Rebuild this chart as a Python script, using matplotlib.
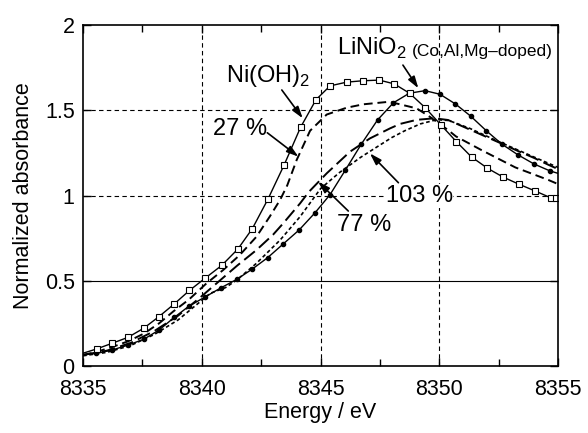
import matplotlib
matplotlib.use('Agg')
import matplotlib.pyplot as plt
from matplotlib.ticker import MultipleLocator

plt.rcParams['font.family'] = ['Liberation Sans', 'DejaVu Sans']
plt.rcParams['mathtext.fontset'] = 'custom'
plt.rcParams['mathtext.rm'] = 'Liberation Sans'

# Ni(OH)2 reference (open squares)
ni_x = [8335.0, 8335.57, 8336.22, 8336.89, 8337.56, 8338.2, 8338.84, 8339.48, 8340.15,
        8340.84, 8341.52, 8342.13, 8342.78, 8343.47, 8344.16, 8344.81, 8345.4, 8346.1,
        8346.77, 8347.47, 8348.1, 8348.75, 8349.4, 8350.07, 8350.72, 8351.36, 8352.03,
        8352.69, 8353.36, 8354.03, 8354.69, 8354.93]
ni_y = [0.075, 0.10, 0.133, 0.168, 0.222, 0.29, 0.364, 0.443, 0.516,
        0.59, 0.686, 0.806, 0.977, 1.18, 1.40, 1.562, 1.643, 1.665,
        1.673, 1.677, 1.655, 1.60, 1.516, 1.414, 1.316, 1.226, 1.16,
        1.108, 1.066, 1.027, 0.987, 0.985]

# LiNiO2 (Co,Al,Mg-doped) (small filled dots)
li_x = [8335.0, 8335.56, 8336.23, 8336.9, 8337.56, 8338.2, 8338.84, 8339.45, 8340.14,
        8340.8, 8341.47, 8342.13, 8342.77, 8343.43, 8344.1, 8344.77, 8345.4, 8346.05,
        8346.72, 8347.4, 8348.07, 8348.74, 8349.4, 8350.03, 8350.68, 8351.32, 8351.98,
        8352.65, 8353.32, 8353.99, 8354.65, 8355.0]
li_y = [0.065, 0.074, 0.094, 0.123, 0.157, 0.211, 0.285, 0.35, 0.405,
        0.458, 0.508, 0.569, 0.635, 0.716, 0.798, 0.899, 1.005, 1.15,
        1.302, 1.443, 1.544, 1.60, 1.615, 1.594, 1.537, 1.466, 1.38,
        1.30, 1.238, 1.185, 1.145, 1.13]

# 27 %
c27_x = [8335.0, 8335.5, 8336.2, 8336.9, 8337.56, 8338.2, 8338.8, 8339.46, 8340.2, 8340.9,
         8341.6, 8342.3, 8342.86, 8343.3, 8343.6, 8344.0, 8344.56, 8345.26, 8346.1, 8346.8,
         8347.9, 8349.05, 8349.6, 8350.37, 8350.7, 8351.77, 8353.2, 8354.6, 8355.0]
c27_y = [0.065, 0.08, 0.11, 0.145, 0.19, 0.25, 0.32, 0.39, 0.485, 0.563,
         0.651, 0.758, 0.876, 0.975, 1.06, 1.21, 1.38, 1.475, 1.515, 1.535,
         1.55, 1.511, 1.462, 1.384, 1.347, 1.267, 1.165, 1.091, 1.067]

# 77 %
c77_x = [8335.0, 8336.0, 8337.0, 8338.0, 8339.0, 8340.0, 8340.5, 8341.0, 8341.5, 8342.3,
         8343.0, 8343.43, 8344.14, 8344.5, 8345.26, 8346.24, 8347.08, 8347.93, 8348.35,
         8349.05, 8349.8, 8350.37, 8351.3, 8352.0, 8352.6, 8353.3, 8354.0, 8354.6, 8355.0]
c77_y = [0.065, 0.09, 0.135, 0.205, 0.295, 0.41, 0.47, 0.53, 0.59, 0.68,
         0.77, 0.837, 0.954, 1.02, 1.13, 1.257, 1.335, 1.394, 1.42,
         1.444, 1.453, 1.443, 1.386, 1.343, 1.306, 1.262, 1.22, 1.18, 1.155]

# 103 %
c103_x = [8335.0, 8336.0, 8337.0, 8338.0, 8339.0, 8340.0, 8340.35, 8341.0, 8341.47, 8342.3,
          8343.3, 8344.14, 8345.0, 8345.8, 8346.7, 8347.15, 8348.0, 8348.55, 8349.2, 8349.9,
          8350.4, 8351.3, 8352.6, 8354.0, 8355.0]
c103_y = [0.06, 0.08, 0.12, 0.185, 0.27, 0.385, 0.426, 0.46, 0.504, 0.602,
          0.739, 0.876, 1.04, 1.135, 1.225, 1.265, 1.34, 1.38, 1.42, 1.445,
          1.44, 1.393, 1.31, 1.225, 1.165]

fig = plt.figure(figsize=(5.88, 4.33), dpi=100)
ax = fig.add_axes([0.1412, 0.1547, 0.8078, 0.7875])

ax.plot(c27_x, c27_y, color='k', lw=1.4, dashes=(4.5, 2.5))
ax.plot(c77_x, c77_y, color='k', lw=1.4, dashes=(7, 2.8))
ax.plot(c103_x, c103_y, color='k', lw=1.2, dashes=(2.2, 1.6))
ax.plot(li_x, li_y, color='k', lw=1.0, marker='o', ms=3, markevery=range(1, len(li_x) - 1))
ax.plot(ni_x, ni_y, color='k', lw=1.0, marker='s', ms=5, mfc='white', mec='k', mew=0.8,
        markevery=range(1, len(ni_x)))

ax.set_xlim(8335, 8355)
ax.set_ylim(0, 2)
ax.xaxis.set_major_locator(MultipleLocator(5))
ax.xaxis.set_minor_locator(MultipleLocator(2.5))
ax.set_yticks([0, 0.5, 1, 1.5, 2])
ax.set_yticklabels(['0', '0.5', '1', '1.5', '2'])
ax.tick_params(which='both', direction='in', top=True, right=True, width=1.0)
ax.tick_params(which='major', length=6, labelsize=15.5)
ax.tick_params(which='minor', length=5)
ax.tick_params(axis='x', pad=9)
ax.tick_params(axis='y', pad=6)
for s in ax.spines.values():
    s.set_linewidth(1.2)

for xv in [8340, 8345, 8350]:
    ax.axvline(xv, color='k', lw=0.8, dashes=(4, 3), zorder=0)
for yv in [1.0, 1.5]:
    ax.axhline(yv, color='k', lw=0.8, dashes=(4, 3), zorder=0)
ax.axhline(0.5, color='k', lw=0.8, zorder=0)

ax.set_xlabel('Energy / eV', fontsize=15.5, labelpad=2)
ax.set_ylabel('Normalized absorbance', fontsize=15.5, labelpad=8)

ap = dict(arrowstyle='-|>,head_length=0.7,head_width=0.22', color='k', lw=1.2,
          shrinkA=0, shrinkB=0)
box = dict(facecolor='white', edgecolor='none', pad=0.5)

# labels
ax.text(8342.8, 1.70, 'Ni(OH)$_\\mathregular{2}$', fontsize=17, ha='center', va='center')
ax.text(8341.6, 1.39, '27 %', fontsize=17, ha='center', va='center', bbox=box)
ax.text(8345.7, 1.865, 'LiNiO$_\\mathregular{2}$', fontsize=17, ha='left', va='center')
ax.text(8348.85, 1.845, '(Co,Al,Mg\u2013doped)', fontsize=12.5, ha='left', va='center')
ax.text(8349.15, 0.997, '103 %', fontsize=17, ha='center', va='center', bbox=box)
ax.text(8346.83, 0.827, '77 %', fontsize=17, ha='center', va='center', bbox=box)

# arrows
ax.annotate('', xy=(8344.25, 1.453), xytext=(8343.37, 1.619), arrowprops=ap)
ax.annotate('', xy=(8344.07, 1.228), xytext=(8342.76, 1.368), arrowprops=ap)
ax.annotate('', xy=(8349.12, 1.629), xytext=(8348.47, 1.765), arrowprops=ap)
ax.annotate('', xy=(8347.08, 1.247), xytext=(8348.28, 1.075), arrowprops=ap)
ax.annotate('', xy=(8344.9, 1.081), xytext=(8346.17, 0.909), arrowprops=ap)

fig.savefig('out.png', dpi=100)
